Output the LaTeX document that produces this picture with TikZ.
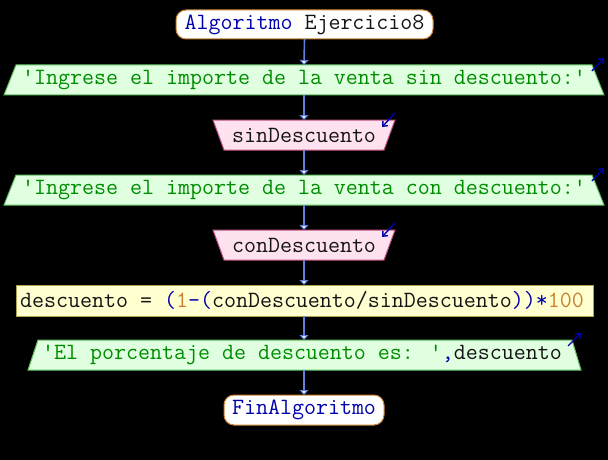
\documentclass[tikz,border=0pt]{standalone}
\usepackage{fontspec}
\usetikzlibrary{arrows.meta}
\definecolor{conn}{RGB}{96,128,224}
\definecolor{kwblue}{RGB}{0,0,170}
\definecolor{termborder}{RGB}{200,128,48}
\definecolor{outfill}{RGB}{224,255,224}
\definecolor{outborder}{RGB}{96,192,96}
\definecolor{outtext}{RGB}{0,140,0}
\definecolor{infill}{RGB}{255,226,240}
\definecolor{inborder}{RGB}{192,80,128}
\definecolor{asfill}{RGB}{255,255,208}
\definecolor{asborder}{RGB}{176,160,80}
\definecolor{numcol}{RGB}{200,128,48}
\definecolor{txt}{RGB}{20,20,20}
\tikzset{
  fnt/.style={font=\fontsize{23.3}{25}\selectfont\ttfamily},
  slot/.style={inner sep=0pt, outer sep=0pt, fnt},
  term/.style={slot, draw=termborder, fill=white, line width=1pt, rounded corners=10pt, text=kwblue},
  flow/.style={draw=conn, line width=1.6pt, -{Triangle[width=9pt,length=5pt,fill=white,line width=1pt]}},
  iomark/.style={draw=kwblue, line width=1.4pt, -{Straight Barb[length=4pt,width=7pt]}},
  outshape/.style={fill=outfill, draw=outborder, line width=1pt},
  inshape/.style={fill=infill, draw=inborder, line width=1pt},
  asshape/.style={fill=asfill, draw=asborder, line width=1pt},
}
\begin{document}
\begin{tikzpicture}[x=1pt,y=-1pt]
\fill[black] (0,0) rectangle (608,460);
\useasboundingbox (0,0) rectangle (608,460);

% shapes
\path[outshape] (16,65) -- (592,65) -- (604,95) -- (4,95) -- cycle;
\path[inshape] (213,120) -- (395,120) -- (384,150) -- (224,150) -- cycle;
\path[outshape] (16,175) -- (592,175) -- (604,205) -- (4,205) -- cycle;
\path[inshape] (213,230) -- (395,230) -- (384,260) -- (224,260) -- cycle;
\path[asshape] (16,285) rectangle (593,316);
\path[outshape] (38,340) -- (572,340) -- (581,370) -- (28,370) -- cycle;

% nodes
\node[term, minimum width=257pt, minimum height=29pt] (s) at (304.5,24.5) {Algoritmo\ \textcolor{txt}{Ejercicio8}};
\node[slot, minimum width=500pt, minimum height=30pt, text=outtext] (o1) at (304,80) {'Ingrese el importe de la venta sin descuento:'};
\node[slot, minimum width=160pt, minimum height=30pt, text=txt] (i1) at (304,135) {sinDescuento};
\node[slot, minimum width=500pt, minimum height=30pt, text=outtext] (o2) at (304,190) {'Ingrese el importe de la venta con descuento:'};
\node[slot, minimum width=160pt, minimum height=30pt, text=txt] (i2) at (304,245) {conDescuento};
\node[slot, minimum width=560pt, minimum height=31pt, text=txt] (a) at (302,300.5) {descuento = \textcolor{kwblue}{(}\textcolor{numcol}{1}\textcolor{kwblue}{-(}conDescuento/sinDescuento\textcolor{kwblue}{))*}\textcolor{numcol}{100}};
\node[slot, minimum width=500pt, minimum height=30pt, text=outtext] (o3) at (302,355) {'El porcentaje de descuento es: '\textcolor{kwblue}{,}\textcolor{txt}{descuento}};
\node[term, minimum width=160pt, minimum height=30pt] (e) at (304,410) {FinAlgoritmo};

% connectors
\draw[flow] (s.south) -- (o1.north);
\draw[flow] (o1.south) -- (i1.north);
\draw[flow] (i1.south) -- (o2.north);
\draw[flow] (o2.south) -- (i2.north);
\draw[flow] (i2.south) -- (a.north -| i2.south);
\draw[flow] (a.south -| i2.south) -- (o3.north -| i2.south);
\draw[flow] (o3.south -| i2.south) -- (e.north);

% io marks
\coordinate (m1a) at (592,71); \coordinate (m1b) at (604,58);
\coordinate (m2a) at (395,113); \coordinate (m2b) at (382,127);
\coordinate (m3a) at (592,181); \coordinate (m3b) at (604,168);
\coordinate (m4a) at (395,223); \coordinate (m4b) at (382,237);
\coordinate (m5a) at (568,346); \coordinate (m5b) at (581,333);
\draw[iomark] (m1a) -- (m1b);
\draw[iomark] (m2a) -- (m2b);
\draw[iomark] (m3a) -- (m3b);
\draw[iomark] (m4a) -- (m4b);
\draw[iomark] (m5a) -- (m5b);
\end{tikzpicture}
\end{document}
